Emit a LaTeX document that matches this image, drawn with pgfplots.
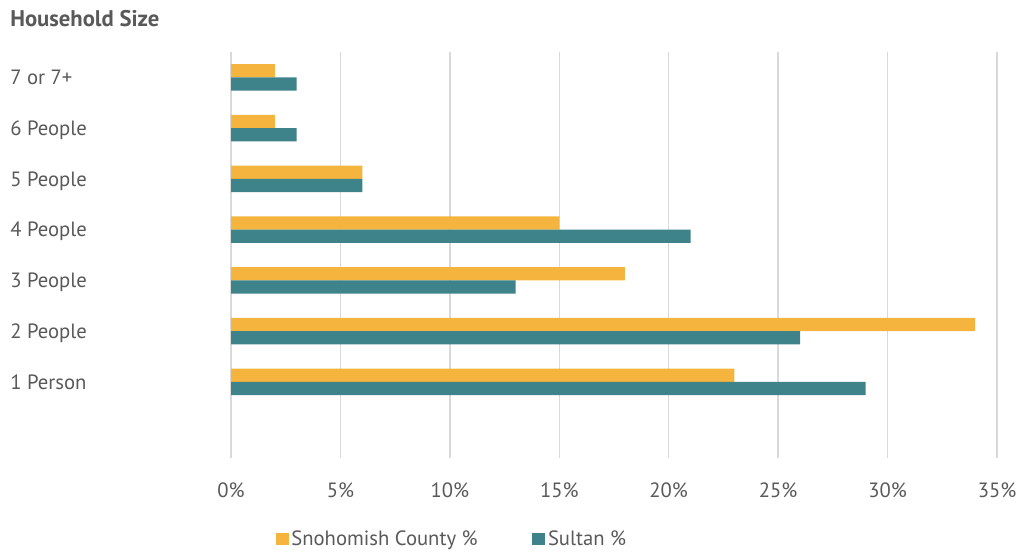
\documentclass[border=0pt]{standalone}
\usepackage{fontspec}
\setmainfont{PT Sans}
\usepackage{pgfplots}
\pgfplotsset{compat=1.18}
\definecolor{orangeC}{HTML}{F4B43E}
\definecolor{tealC}{HTML}{3E828A}
\definecolor{gridC}{HTML}{D9D9D9}
\definecolor{textC}{HTML}{595959}
\begin{document}
\begin{tikzpicture}
\useasboundingbox (0,0) rectangle (762pt,413.25pt);
\node[anchor=base west, inner sep=0, font=\fontsize{17}{20}\selectfont\bfseries, text=textC] at (7.5pt,393pt) {Household Size};
\begin{axis}[
 at={(173.25pt,69.75pt)}, anchor=south west,
 width=574.5pt, height=304.5pt, scale only axis,
 xbar, bar width=10pt,
 xmin=0, xmax=35, ymin=-0.5, ymax=7.5,
 xtick={0,5,...,35},
 ytick={1,...,7},
 yticklabels={1 Person,2 People,3 People,4 People,5 People,6 People,7 or 7+},
 axis line style={draw=none},
 major tick length=0pt,
 xmajorgrids, grid style={gridC, line width=1pt},
 /pgf/number format/assume math mode=true,
 xticklabel={\pgfmathprintnumber{\tick}\%},
 ticklabel style={font=\fontsize{15.5}{18}\selectfont, text=textC},
 xticklabel style={anchor=base, inner sep=0pt, yshift=-29.25pt},
 yticklabel style={anchor=base west, inner sep=0pt, xshift=-165.75pt, yshift=-5.5pt},
 legend style={draw=none, fill=none, at={(axis description cs:0.058,-0.2)}, anchor=west, inner sep=0pt,
   font=\fontsize{15.5}{18}\selectfont, text=textC,
   /tikz/every even column/.append style={column sep=39pt}},
 legend columns=2, legend cell align=left,
 legend image code/.code={\fill[#1] (0pt,-4.5pt) rectangle (9.75pt,4.5pt);},
]
\addplot[fill=orangeC, draw=none, bar shift=5pt] coordinates {(23,1)(34,2)(18,3)(15,4)(6,5)(2,6)(2,7)};
\addplot[fill=tealC, draw=none, bar shift=-5pt] coordinates {(29,1)(26,2)(13,3)(21,4)(6,5)(3,6)(3,7)};
\legend{Snohomish County \%, Sultan \%}
\end{axis}
\end{tikzpicture}
\end{document}
